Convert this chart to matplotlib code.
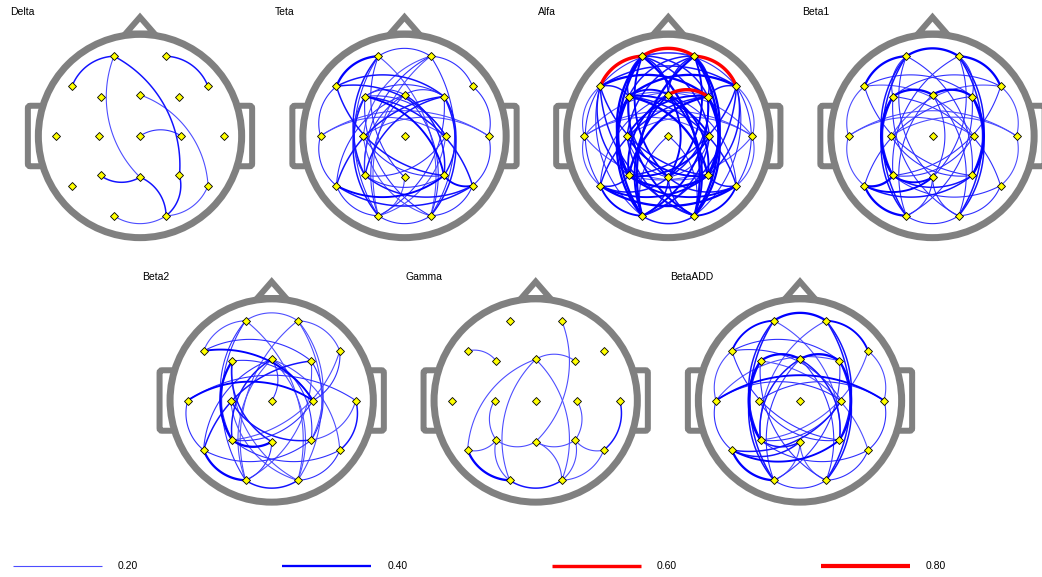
import numpy as np
import matplotlib
matplotlib.use("Agg")
import matplotlib.pyplot as plt
from matplotlib.patches import Circle, Polygon, FancyBboxPatch

plt.rcParams['font.family'] = ['Liberation Sans', 'DejaVu Sans']

# 10-20 electrode layout, in head units (T3..T4 = -1..1)
elec_names = ["Fp1", "Fp2", "F7", "F3", "Fz", "F4", "F8", "T3", "C3", "Cz",
              "C4", "T4", "T5", "P3", "Pz", "P4", "T6", "O1", "O2"]
elec_x = [-0.31, 0.31, -0.81, -0.47, 0.0, 0.47, 0.81, -1.0, -0.49, 0.0,
          0.49, 1.0, -0.81, -0.47, 0.0, 0.47, 0.81, -0.31, 0.31]
elec_y = [0.95, 0.95, 0.59, 0.47, 0.49, 0.47, 0.59, 0.0, 0.0, 0.0,
          0.0, 0.0, -0.59, -0.47, -0.49, -0.47, -0.59, -0.95, -0.95]

# coherence links per band: (electrode, electrode, value[, bend])
delta_links = [
    ("Fp1", "F7", 0.3), ("Fp2", "F8", 0.3), ("Fp1", "Pz", 0.2), ("Fp1", "P4", 0.3),
    ("P4", "O2", 0.3), ("Fz", "T6", 0.2), ("T6", "O2", 0.2), ("Cz", "C4", 0.25),
    ("P3", "Pz", 0.3), ("Pz", "O2", 0.3, -1), ("O1", "O2", 0.2),
]
teta_links = [
    ("Fp1", "F7", 0.4), ("Fp1", "Fp2", 0.25), ("Fp2", "F8", 0.25), ("F7", "T3", 0.25),
    ("T3", "T5", 0.25), ("T5", "O1", 0.25), ("O1", "O2", 0.25), ("O2", "T6", 0.25),
    ("T6", "T4", 0.25), ("T4", "F8", 0.25), ("T3", "T4", 0.2), ("T3", "C4", 0.2),
    ("C3", "T4", 0.2), ("F7", "F4", 0.3), ("F7", "C4", 0.3), ("F7", "P4", 0.3),
    ("F3", "P4", 0.35), ("F3", "T6", 0.3), ("F3", "C4", 0.25), ("T5", "P4", 0.35),
    ("T5", "T6", 0.3), ("T5", "F4", 0.3), ("T5", "Fz", 0.25), ("P3", "T6", 0.3),
    ("P4", "T6", 0.35), ("Fp1", "P3", 0.3), ("Fp1", "O1", 0.25), ("Fp1", "Pz", 0.25),
    ("Fp1", "O2", 0.2), ("Fp2", "O2", 0.25), ("Fp2", "O1", 0.2), ("Fp2", "P3", 0.25),
    ("Fp2", "C3", 0.2), ("F4", "O2", 0.3), ("F4", "P3", 0.3), ("F4", "O1", 0.25),
    ("F3", "O1", 0.3), ("F3", "O2", 0.25), ("F3", "P3", 0.25), ("F4", "P4", 0.3),
    ("Fz", "P3", 0.25), ("Fz", "P4", 0.3), ("Fz", "O1", 0.25), ("Fz", "O2", 0.25),
    ("Fz", "F3", 0.25), ("Fz", "F4", 0.25), ("C3", "O2", 0.2), ("C4", "O1", 0.2),
    ("C3", "P4", 0.25), ("C4", "P3", 0.25), ("P3", "P4", 0.25), ("F3", "F4", 0.25),
    ("Pz", "O1", 0.2),
]
alfa_links = [
    ("Fp1", "F7", 0.6), ("Fp1", "Fp2", 0.6), ("Fp2", "F8", 0.6), ("Fz", "F4", 0.6),
    ("F7", "F4", 0.4), ("F3", "F8", 0.4), ("F7", "F8", 0.3),
    ("Fp1", "O1", 0.4), ("Fp2", "O2", 0.4), ("Fp1", "P3", 0.4), ("Fp2", "P4", 0.4),
    ("F3", "P3", 0.4), ("F4", "P4", 0.4), ("F3", "O1", 0.4), ("F4", "O2", 0.4),
    ("Fp1", "O2", 0.4), ("Fp2", "O1", 0.4), ("F3", "P4", 0.4), ("F4", "P3", 0.4),
    ("F3", "O2", 0.35), ("F4", "O1", 0.35), ("Fz", "Pz", 0.35), ("Fz", "O1", 0.35),
    ("Fz", "O2", 0.35), ("Fp1", "Pz", 0.35), ("Fp2", "Pz", 0.35), ("F7", "P4", 0.3),
    ("F8", "P3", 0.3), ("F7", "O2", 0.3), ("F8", "O1", 0.3), ("T5", "T6", 0.4),
    ("P3", "P4", 0.4), ("T5", "P4", 0.35), ("P3", "T6", 0.35), ("T5", "O1", 0.35),
    ("O2", "T6", 0.35), ("O1", "O2", 0.3), ("Pz", "O1", 0.3), ("Pz", "O2", 0.3),
    ("C3", "P4", 0.35), ("C4", "P3", 0.35), ("F3", "C4", 0.35), ("F4", "C3", 0.35),
    ("C3", "O2", 0.3), ("C4", "O1", 0.3), ("Fp1", "C4", 0.3), ("Fp2", "C3", 0.3),
    ("Fz", "P3", 0.35), ("Fz", "P4", 0.35), ("F3", "Pz", 0.3), ("F4", "Pz", 0.3),
    ("Fp1", "F3", 0.3), ("Fp2", "F4", 0.3), ("F3", "Fz", 0.35), ("F7", "F3", 0.3),
    ("F4", "F8", 0.3), ("Fp1", "F4", 0.3), ("Fp2", "F3", 0.3), ("Fp1", "Fz", 0.3),
    ("Fp2", "Fz", 0.3), ("Fp1", "F8", 0.25), ("Fp2", "F7", 0.25),
    ("F7", "T3", 0.2), ("T3", "T5", 0.2), ("T4", "T6", 0.2), ("F8", "T4", 0.2),
    ("T3", "C4", 0.2), ("C3", "T4", 0.2), ("T3", "P4", 0.2), ("T4", "P3", 0.2),
    ("T3", "F4", 0.2), ("T4", "F3", 0.2), ("T3", "T4", 0.2), ("F7", "T5", 0.25),
    ("F8", "T6", 0.25), ("F7", "P3", 0.3), ("F8", "P4", 0.3), ("F7", "O1", 0.25),
    ("F8", "O2", 0.25), ("T5", "F4", 0.3), ("T6", "F3", 0.3), ("T5", "Fz", 0.25),
    ("T6", "Fz", 0.25), ("T5", "P3", 0.3), ("P4", "T6", 0.3), ("T5", "Pz", 0.3),
    ("T6", "Pz", 0.3), ("C3", "Pz", 0.25), ("C4", "Pz", 0.25), ("Cz", "O1", 0.25),
    ("Cz", "O2", 0.25),
]
beta1_links = [
    ("Fp1", "Fp2", 0.4), ("Fp1", "F7", 0.4), ("Fp2", "F8", 0.4), ("F3", "Fz", 0.4),
    ("Fz", "F4", 0.4), ("F3", "P3", 0.4), ("F4", "P4", 0.4), ("T5", "O1", 0.4),
    ("T5", "P3", 0.4), ("T5", "Pz", 0.35), ("P3", "Pz", 0.35),
    ("T3", "T4", 0.2), ("T3", "T5", 0.2), ("F7", "T3", 0.2), ("T4", "T6", 0.2),
    ("F8", "T4", 0.2), ("O1", "O2", 0.25), ("O2", "T6", 0.25), ("T3", "C4", 0.2),
    ("C3", "T4", 0.2), ("Fp1", "O1", 0.3), ("Fp2", "O2", 0.3), ("Fp1", "P3", 0.3),
    ("Fp2", "P4", 0.3), ("Fp1", "Pz", 0.25), ("Fp2", "Pz", 0.25), ("F3", "O1", 0.3),
    ("F4", "O2", 0.3), ("Fz", "O1", 0.25), ("Fz", "O2", 0.25), ("Fz", "Pz", 0.25),
    ("F7", "P4", 0.25), ("F8", "P3", 0.25), ("F3", "O2", 0.25), ("F4", "O1", 0.25),
    ("Fp1", "P4", 0.25), ("Fp2", "P3", 0.25), ("F7", "F4", 0.25), ("F3", "F8", 0.25),
    ("F7", "C4", 0.2), ("F8", "C3", 0.2), ("T5", "P4", 0.3), ("P3", "T6", 0.25),
    ("T5", "F4", 0.25), ("F3", "T6", 0.25), ("C3", "P4", 0.25), ("C4", "P3", 0.25),
    ("P3", "P4", 0.3), ("Pz", "O1", 0.25), ("Pz", "O2", 0.25), ("Fp1", "F3", 0.25),
    ("Fp2", "F4", 0.25),
]
beta2_links = [
    ("Fp1", "Fp2", 0.2), ("Fp1", "F7", 0.2), ("Fp2", "F8", 0.2), ("F7", "C4", 0.35),
    ("F7", "F4", 0.25), ("T3", "C4", 0.35), ("T3", "T4", 0.25), ("T3", "T5", 0.25),
    ("T4", "T6", 0.3), ("T5", "O1", 0.4), ("O1", "O2", 0.3), ("O2", "T6", 0.25),
    ("F3", "P3", 0.4), ("P3", "Pz", 0.4), ("Fp1", "O1", 0.25), ("Fp2", "O2", 0.2),
    ("Fp1", "P3", 0.25), ("Fp2", "P4", 0.2), ("F4", "P4", 0.25), ("Fz", "Cz", 0.25),
    ("Fz", "P3", 0.3), ("Fz", "P4", 0.25), ("Fz", "O1", 0.2), ("Fz", "O2", 0.2),
    ("F3", "O2", 0.2), ("F4", "O1", 0.2), ("Fp1", "O2", 0.2), ("Fp2", "O1", 0.2),
    ("F8", "C4", 0.25), ("F8", "P3", 0.2), ("T5", "P4", 0.25), ("T5", "Fz", 0.25),
    ("T5", "F4", 0.3), ("C3", "P4", 0.3), ("C4", "P3", 0.25), ("F3", "C4", 0.25),
    ("F3", "Pz", 0.3), ("Fz", "T6", 0.2), ("C3", "O2", 0.2), ("P3", "T6", 0.25),
    ("Pz", "O1", 0.25), ("T4", "P4", 0.2),
]
gamma_links = [
    ("F7", "F3", 0.2), ("Fz", "F4", 0.2), ("Fp2", "Pz", 0.2), ("Fz", "T5", 0.2),
    ("Fz", "O1", 0.2), ("Fz", "O2", 0.2), ("C3", "P3", 0.2), ("C4", "P4", 0.2),
    ("T4", "T6", 0.3), ("T6", "P4", 0.2), ("T5", "P3", 0.2), ("P3", "Pz", 0.2),
    ("Pz", "P4", 0.2), ("T5", "O1", 0.4), ("O1", "O2", 0.3), ("P3", "O1", 0.2),
    ("Pz", "O2", 0.2, -1), ("P4", "O2", 0.2), ("T6", "O2", 0.2),
]
betaadd_links = [
    ("Fp1", "Fp2", 0.4), ("Fp1", "F7", 0.35), ("Fp2", "F8", 0.35), ("F3", "Fz", 0.4),
    ("Fz", "F4", 0.4), ("F3", "P3", 0.4), ("F4", "P4", 0.35), ("T3", "T4", 0.35),
    ("T5", "O1", 0.4), ("T5", "P4", 0.35), ("T5", "C4", 0.3), ("T5", "Pz", 0.3),
    ("P3", "Pz", 0.3), ("T3", "T5", 0.25), ("F7", "T3", 0.2), ("T4", "T6", 0.25),
    ("F8", "T4", 0.2), ("O1", "O2", 0.25), ("O2", "T6", 0.25), ("T3", "C4", 0.25),
    ("C3", "T4", 0.25), ("T3", "F4", 0.2), ("Fp1", "O1", 0.3), ("Fp2", "O2", 0.3),
    ("Fp1", "P3", 0.3), ("Fp2", "P4", 0.3), ("F3", "O1", 0.3), ("F4", "O2", 0.3),
    ("Fz", "O1", 0.25), ("Fz", "O2", 0.25), ("Fz", "P3", 0.3), ("Fz", "P4", 0.3),
    ("F3", "O2", 0.25), ("F4", "O1", 0.25), ("Fp1", "P4", 0.2), ("Fp2", "P3", 0.2),
    ("F7", "P4", 0.25), ("F8", "P3", 0.2), ("F7", "F4", 0.25), ("F7", "C4", 0.25),
    ("C3", "P4", 0.25), ("C4", "P3", 0.25), ("P3", "T6", 0.25), ("Pz", "O1", 0.2),
    ("Pz", "O2", 0.2), ("F3", "T6", 0.2),
]

band_names = ["Delta", "Teta", "Alfa", "Beta1", "Beta2", "Gamma", "BetaADD"]
band_links = [delta_links, teta_links, alfa_links, beta1_links,
              beta2_links, gamma_links, betaadd_links]
legend_values = [0.20, 0.40, 0.60, 0.80]

W, H = 1042, 577
UNIT = 84.0          # pixels per head unit
HALF = 1.5           # half extent of each head axes, head units
centers = [(140, 136), (404.5, 136), (668.3, 136), (932.5, 136),
           (271.7, 400.5), (535.7, 400.5), (800, 400.5)]
GRAY = "#808080"
PX = 72.0 / 100      # points per pixel


def link_style(v):
    if v >= 0.5:
        return (1.0, 0.0, 0.0), (1.0 + 4.0 * v) * PX
    light = float(np.clip((0.33 - v) / 0.13 * 0.3, 0.0, 0.3))
    return (light, light, 1.0), (1.1 + max(0.0, v - 0.25) * 8.0) * PX


def arc_points(p, q, bend=1, angle=np.radians(67), n=60):
    p, q = np.asarray(p), np.asarray(q)
    mid = (p + q) / 2
    d = q - p
    c = np.hypot(*d)
    nrm = np.array([-d[1], d[0]]) / c
    side = np.dot(nrm, mid)
    if abs(side) < 1e-6:
        side = nrm[1] if abs(nrm[1]) > 1e-6 else nrm[0]
    if side < 0:
        nrm = -nrm
    nrm = nrm * bend
    r = c / (2 * np.sin(angle / 2))
    ctr = mid - nrm * r * np.cos(angle / 2)
    a0 = np.arctan2(*(p - ctr)[::-1])
    a1 = np.arctan2(*(q - ctr)[::-1])
    da = (a1 - a0 + np.pi) % (2 * np.pi) - np.pi
    t = np.linspace(0, 1, n)
    return ctr[0] + r * np.cos(a0 + t * da), ctr[1] + r * np.sin(a0 + t * da)


def draw_head(ax):
    for x0 in (-1.335, 1.125):
        ear = FancyBboxPatch((x0, -0.36), 0.21, 0.72,
                             boxstyle="round,pad=0,rounding_size=0.03",
                             fc="white", ec=GRAY, lw=6 * PX, zorder=1)
        ax.add_patch(ear)
    nose = Polygon([(-0.17, 1.22), (0.0, 1.415), (0.17, 1.22)], closed=True,
                   fc="white", ec=GRAY, lw=6 * PX, joinstyle="miter", zorder=1)
    ax.add_patch(nose)
    ax.add_patch(Circle((0, 0), 1.21, fc="white", ec=GRAY, lw=7 * PX, zorder=2))


fig = plt.figure(figsize=(W / 100, H / 100), dpi=100)
pos = dict(zip(elec_names, zip(elec_x, elec_y)))

for name, links, (cx, cy) in zip(band_names, band_links, centers):
    size = 2 * HALF * UNIT
    ax = fig.add_axes([(cx - HALF * UNIT) / W, (H - cy - HALF * UNIT) / H,
                       size / W, size / H])
    ax.set_xlim(-HALF, HALF)
    ax.set_ylim(-HALF, HALF)
    ax.set_aspect("equal")
    ax.axis("off")
    draw_head(ax)
    for link in sorted(links, key=lambda l: l[2]):
        a, b, v = link[:3]
        bend = link[3] if len(link) > 3 else 1
        xs, ys = arc_points(pos[a], pos[b], bend)
        col, lw = link_style(v)
        ax.plot(xs, ys, color=col, lw=lw, solid_capstyle="round", zorder=3)
    ax.plot(elec_x, elec_y, "D", ms=3.6, mfc="#ffff00", mec="black",
            mew=0.6, zorder=4)
    ax.text(-130 / UNIT, 124 / UNIT, name, fontsize=7.5, ha="left",
            va="center", zorder=5)

# value scale along the bottom
lax = fig.add_axes([0, 0, 1, 45 / H])
lax.set_xlim(0, W)
lax.set_ylim(H, H - 45)
lax.axis("off")
for i, v in enumerate(legend_values):
    x0 = 13 + i * 269.3
    col, lw = link_style(v)
    lax.plot([x0, x0 + 89], [565.5, 565.5], color=col, lw=lw, solid_capstyle="butt")
    lax.text(x0 + 105, 566, f"{v:.2f}", fontsize=7.5, ha="left", va="center")

fig.savefig("out.png", dpi=100, facecolor="white")
